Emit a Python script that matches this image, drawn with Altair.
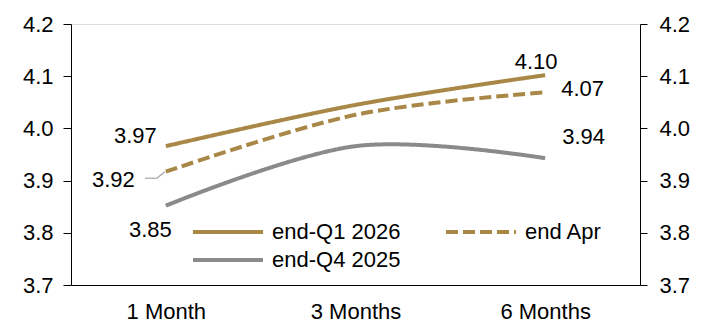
import altair as alt
import pandas as pd

tenors = ["1 Month", "3 Months", "6 Months"]
series_names = ["end-Q1 2026", "end-Q4 2025", "end Apr"]
q1_2026 = [3.966, 4.045, 4.102]
end_apr = [3.917, 4.026, 4.069]
q4_2025 = [3.852, 3.966, 3.943]
label_text_q1 = ["3.97", "4.10"]
label_text_apr = ["3.92", "4.07"]
label_text_q4 = ["3.85", "3.94"]

values_by_series = {"end-Q1 2026": q1_2026, "end Apr": end_apr, "end-Q4 2025": q4_2025}
texts_by_series = {"end-Q1 2026": label_text_q1, "end Apr": label_text_apr,
                   "end-Q4 2025": label_text_q4}

rows = []
for name in series_names:
    for t, v in zip(tenors, values_by_series[name]):
        rows.append({"tenor": t, "value": v, "series": name})
df = pd.DataFrame(rows)

GOLD = "#A88747"
GRAY = "#8A8A8A"
FONT = "Liberation Sans"
FS = 22
colors = {"end-Q1 2026": GOLD, "end Apr": GOLD, "end-Q4 2025": GRAY}
dashes = {"end-Q1 2026": [1, 0], "end Apr": [12, 5], "end-Q4 2025": [1, 0]}

x_enc = alt.X("tenor:N", sort=tenors, scale=alt.Scale(type="point", padding=0.5),
              axis=alt.Axis(title=None, ticks=False, labelFontSize=FS, labelFont=FONT,
                            labelColor="black", domainColor="black", labelPadding=16,
                            labelAngle=0, labelAlign="center"))
y_scale = alt.Scale(domain=[3.7, 4.2], zero=False, nice=False)
y_left = alt.Y("value:Q", scale=y_scale,
               axis=alt.Axis(title=None, orient="left", values=[3.7, 3.8, 3.9, 4.0, 4.1, 4.2],
                             format=".1f", grid=False, tickSize=8, labelPadding=10,
                             labelFontSize=FS, labelFont=FONT, labelColor="black",
                             domainColor="black", tickColor="black"))

lines = alt.Chart(df).mark_line(interpolate="cardinal", strokeWidth=4).encode(
    x=x_enc,
    y=y_left,
    color=alt.Color("series:N", sort=series_names,
                    scale=alt.Scale(domain=series_names,
                                    range=[colors[s] for s in series_names]),
                    legend=alt.Legend(title=None, orient="none", legendX=143, legendY=194,
                                      columns=2, columnPadding=37, rowPadding=3,
                                      symbolType="M-3,0H3", symbolSize=544,
                                      symbolStrokeWidth=4, labelFontSize=FS,
                                      labelFont=FONT, labelColor="black", labelOffset=30)),
    strokeDash=alt.StrokeDash("series:N", sort=series_names,
                              scale=alt.Scale(domain=series_names,
                                              range=[dashes[s] for s in series_names]),
                              legend=None),
)


def lbl(name, idx, dx, dy, align):
    vals = values_by_series[name]
    texts = texts_by_series[name]
    d = pd.DataFrame({"tenor": [tenors[idx]], "value": [vals[idx]],
                      "txt": [texts[0 if idx == 0 else 1]]})
    return alt.Chart(d).mark_text(dx=dx, dy=dy, align=align, baseline="middle",
                                  fontSize=FS, font=FONT, color="black").encode(
        x=alt.X("tenor:N", sort=tenors), y=alt.Y("value:Q"), text="txt:N")


labels = [
    lbl("end-Q1 2026", 0, -9, -10, "right"),
    lbl("end Apr", 0, -31, 8, "right"),
    lbl("end-Q4 2025", 0, 6, 24, "right"),
    lbl("end-Q1 2026", 2, -9, -13, "center"),
    lbl("end Apr", 2, 16, -3, "left"),
    lbl("end-Q4 2025", 2, 17, -21, "left"),
]

# leader line for the 3.92 label
leader_df = pd.DataFrame({"tenor": [tenors[0]], "value": [end_apr[0]]})
leader_h = alt.Chart(leader_df).mark_rule(
    color="#A6A6A6", strokeWidth=1.2, xOffset=-21, x2Offset=-9, yOffset=6.5, y2Offset=6.5
).encode(x=alt.X("tenor:N", sort=tenors), x2="tenor:N", y=alt.Y("value:Q"), y2="value:Q")
leader_d = alt.Chart(leader_df).mark_rule(
    color="#A6A6A6", strokeWidth=1.2, xOffset=-9, x2Offset=-1, yOffset=6.5, y2Offset=0
).encode(x=alt.X("tenor:N", sort=tenors), x2="tenor:N", y=alt.Y("value:Q"), y2="value:Q")

right_axis = alt.Chart(df).mark_line(opacity=0).encode(
    x=alt.X("tenor:N", sort=tenors),
    y=alt.Y("value:Q", scale=y_scale,
            axis=alt.Axis(title=None, orient="right", values=[3.7, 3.8, 3.9, 4.0, 4.1, 4.2],
                          format=".1f", grid=False, tickSize=7, labelPadding=12,
                          labelFontSize=FS, labelFont=FONT, labelColor="black",
                          domainColor="black", tickColor="black")),
    detail="series:N",
)

main = alt.layer(lines, leader_h, leader_d, *labels)
chart = alt.layer(main, right_axis).resolve_scale(y="independent").properties(
    width=569, height=261,
    padding={"left": 71, "top": 24, "right": 71, "bottom": 37},
    autosize=alt.AutoSizeParams(type="none"),
).configure_view(stroke=None).configure(background="white")

chart.save("out.html", embed_options={"renderer": "svg", "actions": False})
